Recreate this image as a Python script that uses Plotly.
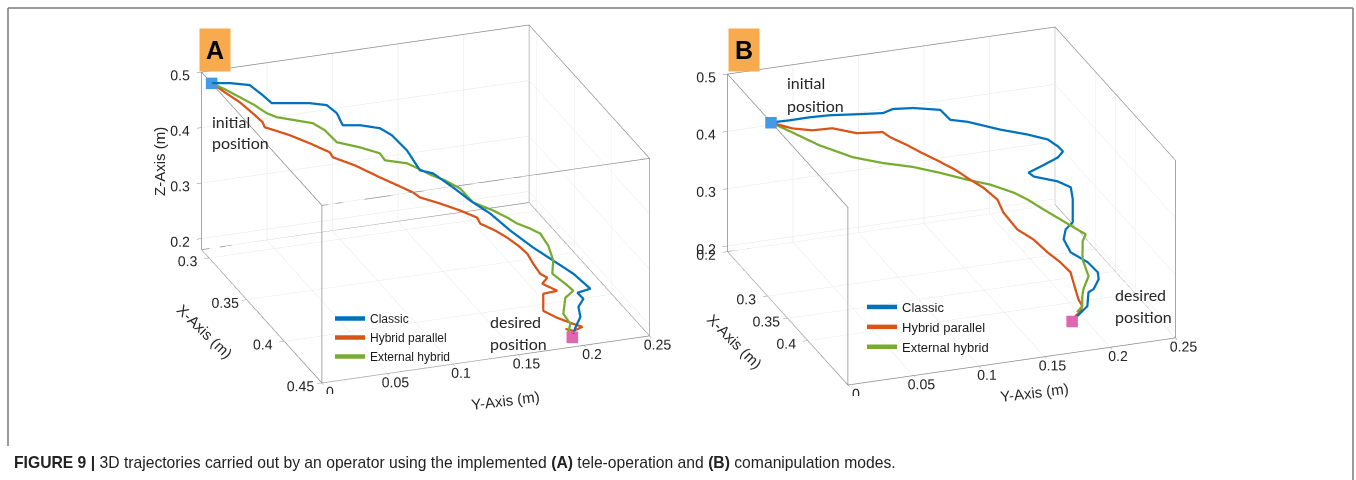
import plotly.graph_objects as go

# ---------------- Panel A : tele-operation ----------------
a_classic_x = [0.300, 0.303, 0.307, 0.311, 0.314, 0.319, 0.325, 0.330, 0.333, 0.337, 0.342, 0.348,
               0.352, 0.358, 0.364, 0.368, 0.375, 0.381, 0.388, 0.395, 0.404, 0.412, 0.420, 0.428,
               0.432, 0.436, 0.440, 0.444, 0.447, 0.450]
a_classic_y = [0.0019, 0.0140, 0.0270, 0.0346, 0.0398, 0.0507, 0.0625, 0.0726, 0.0786, 0.0808, 0.0910, 0.1028,
               0.1097, 0.1177, 0.1242, 0.1319, 0.1432, 0.1527, 0.1640, 0.1753, 0.1877, 0.1984, 0.2091, 0.2175,
               0.2053, 0.2076, 0.2015, 0.2007, 0.1951, 0.1919]
a_classic_z = [0.4946, 0.4950, 0.4930, 0.4783, 0.4666, 0.4705, 0.4754, 0.4759, 0.4639, 0.4475, 0.4515, 0.4511,
               0.4421, 0.4213, 0.3919, 0.3899, 0.3712, 0.3535, 0.3367, 0.3126, 0.2912, 0.2761, 0.2609, 0.2430,
               0.2459, 0.2403, 0.2339, 0.2221, 0.2086, 0.2034]

a_hybrid_x = [0.300, 0.303, 0.306, 0.309, 0.312, 0.314, 0.317, 0.320, 0.325, 0.330, 0.332, 0.337,
              0.343, 0.348, 0.352, 0.354, 0.359, 0.364, 0.369, 0.371, 0.375, 0.379, 0.383, 0.387,
              0.391, 0.396, 0.399, 0.402, 0.406, 0.410, 0.418, 0.425, 0.432, 0.438, 0.444, 0.450]
a_hybrid_y = [0.0019, 0.0101, 0.0199, 0.0281, 0.0340, 0.0344, 0.0426, 0.0501, 0.0625, 0.0749, 0.0761, 0.0900,
              0.1057, 0.1181, 0.1258, 0.1300, 0.1424, 0.1548, 0.1649, 0.1661, 0.1753, 0.1821, 0.1883, 0.1929,
              0.1951, 0.1976, 0.2013, 0.1957, 0.2049, 0.1919, 0.1873, 0.1940, 0.2022, 0.2057, 0.1953, 0.1858]
a_hybrid_z = [0.4946, 0.4801, 0.4632, 0.4450, 0.4312, 0.4250, 0.4195, 0.4143, 0.4031, 0.3901, 0.3837, 0.3720,
              0.3540, 0.3410, 0.3335, 0.3261, 0.3185, 0.3092, 0.3006, 0.2923, 0.2826, 0.2736, 0.2630, 0.2530,
              0.2402, 0.2288, 0.2248, 0.2204, 0.2106, 0.2156, 0.1984, 0.1940, 0.1909, 0.1933, 0.1986, 0.2145]

a_external_x = [0.300, 0.303, 0.306, 0.310, 0.313, 0.316, 0.320, 0.325, 0.329, 0.334, 0.340, 0.345,
                0.348, 0.353, 0.357, 0.361, 0.366, 0.371, 0.377, 0.383, 0.388, 0.392, 0.397, 0.401,
                0.407, 0.413, 0.419, 0.425, 0.431, 0.436, 0.441, 0.446, 0.450]
a_external_y = [0.0019, 0.0101, 0.0199, 0.0291, 0.0365, 0.0424, 0.0539, 0.0648, 0.0717, 0.0780, 0.0921, 0.1045,
                0.1067, 0.1206, 0.1267, 0.1351, 0.1422, 0.1508, 0.1573, 0.1692, 0.1770, 0.1823, 0.1894, 0.1948,
                0.1974, 0.1978, 0.1936, 0.2001, 0.2028, 0.1938, 0.1894, 0.1919, 0.1881]
a_external_z = [0.4946, 0.4855, 0.4722, 0.4606, 0.4482, 0.4434, 0.4401, 0.4385, 0.4295, 0.4132, 0.4083, 0.4008,
                0.3919, 0.3893, 0.3842, 0.3746, 0.3707, 0.3608, 0.3423, 0.3328, 0.3250, 0.3184, 0.3144, 0.3096,
                0.2960, 0.2778, 0.2647, 0.2534, 0.2489, 0.2468, 0.2269, 0.2154, 0.2083]

a_initial = (0.300, 0.0019, 0.4946)
a_desired = (0.450, 0.1910, 0.1980)

# ---------------- Panel B : comanipulation ----------------
b_classic_x = [0.300, 0.300, 0.301, 0.302, 0.303, 0.304, 0.305, 0.306, 0.308, 0.310, 0.312, 0.316,
               0.320, 0.325, 0.328, 0.331, 0.335, 0.340, 0.344, 0.347, 0.352, 0.356, 0.360, 0.368,
               0.372, 0.377, 0.383, 0.390, 0.397, 0.402, 0.410, 0.416, 0.426, 0.438, 0.450]
b_classic_y = [0.0025, 0.0164, 0.0315, 0.0465, 0.0693, 0.0867, 0.0940, 0.1091, 0.1293, 0.1363, 0.1488, 0.1729,
               0.1924, 0.2062, 0.2130, 0.2159, 0.2108, 0.1962, 0.1857, 0.1886, 0.2055, 0.2142, 0.2145, 0.2120,
               0.2054, 0.2023, 0.2058, 0.2167, 0.2222, 0.2214, 0.2150, 0.2093, 0.2054, 0.1978, 0.1902]
b_classic_z = [0.4923, 0.4914, 0.4925, 0.4920, 0.4872, 0.4841, 0.4895, 0.4872, 0.4788, 0.4607, 0.4547, 0.4361,
               0.4243, 0.4150, 0.4030, 0.3956, 0.3899, 0.3828, 0.3788, 0.3733, 0.3630, 0.3529, 0.3349, 0.3018,
               0.2949, 0.2823, 0.2632, 0.2477, 0.2339, 0.2259, 0.2167, 0.2180, 0.2026, 0.2057, 0.2088]

b_hybrid_x = [0.300, 0.301, 0.302, 0.303, 0.305, 0.307, 0.309, 0.312, 0.315, 0.320, 0.325, 0.331,
              0.336, 0.343, 0.350, 0.360, 0.368, 0.378, 0.388, 0.398, 0.410, 0.420, 0.430, 0.440, 0.450]
b_hybrid_y = [0.0025, 0.0184, 0.0335, 0.0485, 0.0664, 0.0857, 0.0905, 0.1026, 0.1117, 0.1255, 0.1355, 0.1451,
              0.1536, 0.1622, 0.1646, 0.1722, 0.1820, 0.1897, 0.1965, 0.2011, 0.2012, 0.2004, 0.2003, 0.1956, 0.1887]
b_hybrid_z = [0.4923, 0.4775, 0.4700, 0.4694, 0.4565, 0.4536, 0.4449, 0.4294, 0.4166, 0.3986, 0.3854, 0.3695,
              0.3567, 0.3385, 0.3205, 0.2962, 0.2818, 0.2645, 0.2526, 0.2415, 0.2212, 0.2118, 0.2074, 0.2062, 0.2092]

b_external_x = [0.300, 0.301, 0.303, 0.306, 0.310, 0.315, 0.321, 0.328, 0.335, 0.343, 0.350, 0.358,
                0.368, 0.375, 0.382, 0.388, 0.398, 0.410, 0.420, 0.430, 0.440, 0.450]
b_external_y = [0.0025, 0.0184, 0.0385, 0.0630, 0.0848, 0.1063, 0.1252, 0.1438, 0.1593, 0.1745, 0.1830, 0.1928,
                0.2051, 0.2106, 0.2176, 0.2134, 0.2103, 0.2112, 0.2042, 0.2003, 0.1972, 0.1902]
b_external_z = [0.4923, 0.4706, 0.4430, 0.4165, 0.4022, 0.3922, 0.3803, 0.3676, 0.3594, 0.3467, 0.3373, 0.3229,
                0.3058, 0.2990, 0.2900, 0.2838, 0.2612, 0.2406, 0.2280, 0.2248, 0.2162, 0.2157]

b_initial = (0.300, 0.0025, 0.4923)
b_desired = (0.450, 0.1863, 0.2013)

# ---------------- axis settings ----------------
a_xrange, a_yrange, a_zrange = [0.29, 0.45], [0.0, 0.25], [0.18, 0.5]
b_xrange, b_yrange, b_zrange = [0.2, 0.5], [0.0, 0.25], [0.19, 0.5]
a_xticks = [0.3, 0.35, 0.4, 0.45]
b_xticks = [0.2, 0.3, 0.35, 0.4]
y_ticks = [0, 0.05, 0.1, 0.15, 0.2, 0.25]
z_ticks = [0.2, 0.3, 0.4, 0.5]

series_names = ["Classic", "Hybrid parallel", "External hybrid"]
series_colors = ["#0072BD", "#D95319", "#77AC30"]
initial_color = "#3D9BF0"
desired_color = "#E066AE"
BOX_COLOR = "#8a8a8a"

TICK_FONT = dict(family="Liberation Sans, Arial, sans-serif", size=13, color="#262626")
NOTE_FONT = dict(family="Lato, Open Sans, sans-serif", size=16, color="#262626")
TITLE_FONT = dict(family="Liberation Sans, Arial, sans-serif", size=15, color="#262626")

fig = go.Figure()


def box_edges(xr, yr, zr):
    """Twelve edges of the axes box, as one broken polyline."""
    ex, ey, ez = [], [], []
    for y in yr:
        for z in zr:
            ex += [xr[0], xr[1], None]; ey += [y, y, None]; ez += [z, z, None]
    for x in xr:
        for z in zr:
            ex += [x, x, None]; ey += [yr[0], yr[1], None]; ez += [z, z, None]
    for x in xr:
        for y in yr:
            ex += [x, x, None]; ey += [y, y, None]; ez += [zr[0], zr[1], None]
    return ex, ey, ez


def add_panel(scene, legend, xs, ys, zs, start, goal, ranges):
    ex, ey, ez = box_edges(*ranges)
    fig.add_trace(go.Scatter3d(x=ex, y=ey, z=ez, mode="lines", scene=scene, showlegend=False,
                               line=dict(color=BOX_COLOR, width=1.5), hoverinfo="skip"))
    for sx, sy, sz, name, color in zip(xs, ys, zs, series_names, series_colors):
        fig.add_trace(go.Scatter3d(
            x=sx, y=sy, z=sz, mode="lines", name=name, scene=scene, legend=legend,
            line=dict(color=color, width=4.5), hoverinfo="skip"))
    for pt, color in ((start, initial_color), (goal, desired_color)):
        fig.add_trace(go.Scatter3d(
            x=[pt[0]], y=[pt[1]], z=[pt[2]], mode="markers", scene=scene, showlegend=False,
            marker=dict(symbol="square", size=6, color=color, line=dict(width=0)),
            hoverinfo="skip"))


add_panel("scene", "legend",
          [a_classic_x, a_hybrid_x, a_external_x],
          [a_classic_y, a_hybrid_y, a_external_y],
          [a_classic_z, a_hybrid_z, a_external_z],
          a_initial, a_desired, (a_xrange, a_yrange, a_zrange))
add_panel("scene2", "legend2",
          [b_classic_x, b_hybrid_x, b_external_x],
          [b_classic_y, b_hybrid_y, b_external_y],
          [b_classic_z, b_hybrid_z, b_external_z],
          b_initial, b_desired, (b_xrange, b_yrange, b_zrange))


def axis(rng, ticks):
    return dict(
        range=rng, autorange=False, tickvals=ticks, ticktext=[f"{t:g}" for t in ticks],
        title=dict(text=""), showbackground=False, showgrid=True, gridcolor="#e6e6e6",
        gridwidth=1, showline=True, linecolor=BOX_COLOR, linewidth=1.5, mirror=True,
        ticks="outside", ticklen=5, tickcolor=BOX_COLOR, tickfont=TICK_FONT, tickangle=0,
        zeroline=False, showspikes=False)


eye_dir = (0.863, -0.311, 0.399)
eye_r = 2.0
camera = dict(eye=dict(x=eye_dir[0] * eye_r, y=eye_dir[1] * eye_r, z=eye_dir[2] * eye_r),
              center=dict(x=0, y=0, z=0), up=dict(x=0, y=0, z=1),
              projection=dict(type="orthographic"))
box_scale = 1.87
aspect = dict(x=1.0 * box_scale, y=0.98 * box_scale, z=0.545 * box_scale)

W, H = 1356, 480


def px_x(v):
    return v / W


def px_y(v):
    return 1 - v / H


fig.update_layout(
    width=W, height=H, margin=dict(l=0, r=0, t=0, b=0),
    paper_bgcolor="white", plot_bgcolor="white", hovermode=False,
    scene=dict(domain=dict(x=[px_x(170), px_x(681)], y=[px_y(393.5), px_y(13.5)]),
               xaxis=axis(a_xrange, a_xticks), yaxis=axis(a_yrange, y_ticks),
               zaxis=axis(a_zrange, z_ticks), aspectmode="manual", aspectratio=aspect,
               camera=camera, dragmode=False, bgcolor="rgba(0,0,0,0)"),
    scene2=dict(domain=dict(x=[px_x(696), px_x(1207)], y=[px_y(396.2), px_y(16.2)]),
                xaxis=axis(b_xrange, b_xticks), yaxis=axis(b_yrange, y_ticks),
                zaxis=axis(b_zrange, z_ticks), aspectmode="manual", aspectratio=aspect,
                camera=camera, dragmode=False, bgcolor="rgba(0,0,0,0)"),
    legend=dict(x=px_x(330), y=px_y(304), xanchor="left", yanchor="top",
                bgcolor="rgba(0,0,0,0)", font=dict(family="Liberation Sans, Arial", size=12, color="#1a1a1a"),
                itemwidth=30, tracegroupgap=0),
    legend2=dict(x=px_x(862), y=px_y(292), xanchor="left", yanchor="top",
                 bgcolor="rgba(0,0,0,0)", font=dict(family="Liberation Sans, Arial", size=13, color="#1a1a1a"),
                 itemwidth=30, tracegroupgap=0),
)

notes = [
    # text, x px, y px, angle, font, anchor
    ("initial", 210, 121, 0, NOTE_FONT, "left"),
    ("position", 210, 142, 0, NOTE_FONT, "left"),
    ("desired", 488, 321, 0, NOTE_FONT, "left"),
    ("position", 488, 343, 0, NOTE_FONT, "left"),
    ("initial", 785, 83, 0, NOTE_FONT, "left"),
    ("position", 785, 105, 0, NOTE_FONT, "left"),
    ("desired", 1113, 294, 0, NOTE_FONT, "left"),
    ("position", 1113, 316, 0, NOTE_FONT, "left"),
    ("Z-Axis (m)", 159, 162, -90, TITLE_FONT, "center"),
    ("X-Axis (m)", 205, 331, 44, TITLE_FONT, "center"),
    ("Y-Axis (m)", 505, 400, -7, TITLE_FONT, "center"),
    ("X-Axis (m)", 735, 341, 45, TITLE_FONT, "center"),
    ("Y-Axis (m)", 1034, 392, -7, TITLE_FONT, "center"),
]
for text, x, y, ang, font, anchor in notes:
    fig.add_annotation(text=text, x=px_x(x), y=px_y(y), xref="paper", yref="paper",
                       xanchor=anchor, yanchor="middle", textangle=ang, showarrow=False, font=font)

# panel letters
for letter, cx in (("A", 215), ("B", 744)):
    fig.add_annotation(text=f"<b>{letter}</b>", x=px_x(cx), y=px_y(50), xref="paper", yref="paper",
                       xanchor="center", yanchor="middle", showarrow=False, width=30, height=42,
                       bgcolor="#F7AB4E", borderpad=0,
                       font=dict(family="Liberation Sans, Arial", size=25, color="black"))

# caption
fig.add_annotation(
    text="<b>FIGURE 9 |</b> 3D trajectories carried out by an operator using the implemented "
         "<b>(A)</b> tele-operation and <b>(B)</b> comanipulation modes.",
    x=px_x(12), y=px_y(462), xref="paper", yref="paper", xanchor="left", yanchor="middle",
    showarrow=False, font=dict(family="Liberation Sans, Arial", size=15.7, color="#222"))

# outer frame
frame = dict(color="#7a7a7a", width=1.5)
fig.add_shape(type="line", xref="paper", yref="paper", x0=px_x(8), x1=px_x(1353), y0=px_y(8), y1=px_y(8), line=frame)
fig.add_shape(type="line", xref="paper", yref="paper", x0=px_x(8), x1=px_x(8), y0=px_y(8), y1=px_y(446), line=frame)
fig.add_shape(type="line", xref="paper", yref="paper", x0=px_x(1353), x1=px_x(1353), y0=px_y(8), y1=px_y(480), line=frame)

fig.write_html("out.html")
